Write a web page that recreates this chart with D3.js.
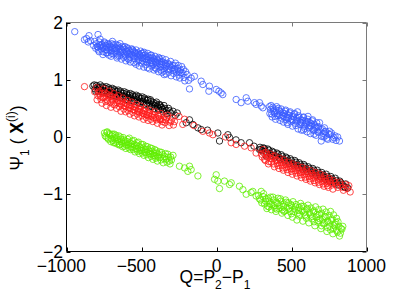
<!DOCTYPE html>
<html><head><meta charset="utf-8">
<script src="https://cdn.jsdelivr.net/npm/d3@7"></script>
<style>body{margin:0;background:#fff}svg{display:block}text{font-family:"Liberation Sans",Arial,sans-serif;fill:#000}</style>
</head><body>
<script>
const xTicks = [-1000, -500, 0, 500, 1000];
const yTicks = [-2, -1, 0, 1, 2];
const xLabel = ["Q=P", "2", "−P", "1"];

const bluePts = [[-945,1.84],[-880,1.70],[-866,1.72],[-850,1.77],[-840,1.68],[-790,1.79],[-855,1.66],
[-820,1.60],[-812,1.67],[-805,1.55],[-800,1.63],[-795,1.58],[-788,1.52],[-782,1.66],[-776,1.59],[-770,1.54],[-764,1.62],[-758,1.49],[-752,1.58],[-745,1.64],[-740,1.53],[-734,1.59],[-728,1.47],[-722,1.56],[-716,1.62],[-710,1.51],[-704,1.57],[-698,1.46],[-692,1.55],[-686,1.61],[-680,1.50],[-674,1.56],[-668,1.45],[-662,1.54],[-656,1.60],[-650,1.49],[-644,1.55],[-638,1.43],[-632,1.52],[-626,1.58],[-620,1.47],[-614,1.53],[-608,1.41],[-602,1.50],[-596,1.56],[-590,1.45],[-584,1.51],[-578,1.39],[-572,1.48],[-566,1.54],[-560,1.43],[-554,1.49],[-548,1.37],[-542,1.46],[-536,1.52],[-530,1.41],[-524,1.47],[-518,1.35],[-512,1.44],[-506,1.50],[-500,1.39],[-494,1.33],[-488,1.42],[-482,1.48],[-476,1.37],[-470,1.31],[-464,1.40],[-458,1.46],[-452,1.35],[-446,1.29],[-440,1.38],[-434,1.43],[-428,1.33],[-422,1.27],[-416,1.36],[-410,1.41],[-404,1.30],[-398,1.24],[-392,1.34],[-386,1.39],[-380,1.28],[-374,1.22],[-368,1.32],[-362,1.37],[-356,1.26],[-350,1.20],[-344,1.29],[-338,1.35],[-330,1.24],[-322,1.18],[-314,1.27],[-306,1.32],[-298,1.21],[-290,1.16],[-282,1.25],[-274,1.29],[-266,1.13],[-258,1.20],[-250,1.08],[-240,1.17],[-232,1.23],[-224,1.11],[-216,1.04],[-206,1.14],[-196,1.09],[-186,0.99],[-180,0.84],[-169,1.03],[-147,1.06],
[-790,1.57],[-760,1.56],[-730,1.52],[-700,1.50],[-670,1.51],[-640,1.48],[-610,1.45],[-580,1.44],[-550,1.42],[-520,1.39],[-490,1.37],[-460,1.34],[-430,1.30],[-400,1.28],[-370,1.26],[-340,1.23],[-310,1.19],[-280,1.18],[-250,1.15],[-620,1.56],[-560,1.52],[-500,1.46],[-440,1.43],[-380,1.37],[-700,1.63],[-660,1.41],[-590,1.37],[-530,1.31],[-470,1.26],[-410,1.21],[-350,1.15],
[-783,1.49],[-776,1.71],[-769,1.61],[-757,1.44],[-748,1.66],[-741,1.60],[-736,1.47],[-725,1.63],[-717,1.43],[-709,1.58],[-703,1.41],[-694,1.67],[-687,1.45],[-679,1.54],[-671,1.62],[-663,1.38],[-657,1.57],[-649,1.42],[-643,1.63],[-634,1.36],[-627,1.50],[-619,1.39],[-611,1.58],[-604,1.33],[-597,1.49],[-589,1.54],[-583,1.35],[-575,1.31],[-567,1.44],[-559,1.52],[-551,1.30],[-545,1.48],[-537,1.27],[-529,1.45],[-521,1.33],[-515,1.24],[-507,1.42],[-499,1.29],[-491,1.47],[-485,1.22],[-477,1.43],[-469,1.36],[-461,1.21],[-455,1.40],[-447,1.19],[-439,1.33],[-431,1.24],[-425,1.38],[-417,1.17],[-409,1.32],[-401,1.19],[-395,1.36],[-387,1.14],[-379,1.31],[-371,1.17],[-365,1.13],[-357,1.31],[-349,1.09],[-341,1.27],[-335,1.10],[-327,1.29],[-319,1.13],[-311,1.24],[-303,1.07],[-294,1.25],[-286,1.11],[-277,1.19],[-268,1.05],[-255,1.25],[-245,1.03],[-236,1.12],[-221,1.18],[-211,0.98],
[-102,0.975],[-91,0.917],[-47,0.888],[-51,0.80],[-2,0.83],[16,0.80],[31,0.77],[42,0.74],[131,0.655],[164,0.60],[198,0.685],[209,0.625],[253,0.60],[264,0.57],[287,0.60],[298,0.54],[309,0.51],[353,0.53],
[360,0.48],[368,0.40],[375,0.52],[382,0.44],[390,0.36],[398,0.47],[405,0.41],[412,0.50],[420,0.38],[428,0.44],[435,0.33],[442,0.42],[450,0.36],[458,0.45],[465,0.30],[472,0.39],[480,0.33],[488,0.42],[495,0.27],[502,0.36],[510,0.30],[518,0.40],[525,0.24],[532,0.33],[540,0.27],[548,0.37],[555,0.22],[562,0.30],[570,0.25],[578,0.34],[585,0.19],[592,0.28],[600,0.22],[608,0.31],[615,0.16],[622,0.25],[630,0.19],[638,0.28],[645,0.13],[652,0.22],[660,0.16],[668,0.25],[675,0.10],[687,0.25],[698,-0.07],[705,0.14],[712,0.06],[720,0.16],[730,0.03],[742,-0.04],[753,0.10],[760,0.04],[775,-0.04],[790,0.02],[820,-0.07],[470,0.25],[540,0.44],[610,0.36],[580,0.12],[650,0.05],[680,0.18],[720,0.09],
[356,0.41],[364,0.55],[371,0.35],[379,0.49],[387,0.42],[394,0.31],[401,0.53],[409,0.37],[417,0.46],[424,0.29],[431,0.49],[439,0.38],[446,0.26],[454,0.41],[461,0.47],[468,0.34],[476,0.22],[484,0.38],[491,0.44],[498,0.31],[506,0.19],[514,0.35],[521,0.41],[529,0.20],[536,0.29],[544,0.14],[551,0.34],[559,0.26],[566,0.12],[574,0.29],[581,0.35],[589,0.15],[596,0.24],[604,0.09],[611,0.27],[619,0.20],[626,0.06],[634,0.23],[641,0.30],[649,0.11],[656,0.19],[664,0.03],[671,0.17],[679,0.08],[694,0.13],[701,0.01],[716,0.00],[727,0.10],[736,-0.02],[748,0.05],[766,0.07],[782,-0.01],[797,-0.06],[808,0.00]];

const redPts = [[-880,0.88],[-800,0.86],[-790,0.72],[-780,0.80],[-770,0.66],[-760,0.76],[-752,0.84],[-745,0.70],[-738,0.62],[-730,0.75],[-722,0.68],[-715,0.80],[-708,0.60],[-700,0.71],[-692,0.64],[-685,0.76],[-678,0.56],[-670,0.67],[-662,0.60],[-655,0.72],[-648,0.53],[-640,0.63],[-632,0.57],[-625,0.68],[-618,0.49],[-610,0.60],[-602,0.53],[-595,0.64],[-588,0.46],[-580,0.56],[-572,0.50],[-565,0.61],[-558,0.43],[-550,0.53],[-542,0.47],[-535,0.57],[-528,0.40],[-520,0.49],[-512,0.43],[-505,0.54],[-498,0.37],[-490,0.46],[-482,0.40],[-475,0.50],[-468,0.34],[-460,0.43],[-452,0.37],[-445,0.47],[-438,0.31],[-430,0.40],[-420,0.34],[-410,0.44],[-400,0.30],[-390,0.38],[-380,0.32],[-370,0.41],[-360,0.27],[-350,0.36],[-340,0.30],[-325,0.38],[-310,0.26],[-295,0.33],[-280,0.27],
[-812,0.79],[-796,0.65],[-786,0.77],[-774,0.71],[-763,0.59],[-754,0.69],[-743,0.77],[-734,0.55],[-726,0.64],[-713,0.72],[-704,0.52],[-696,0.66],[-687,0.57],[-674,0.69],[-666,0.50],[-658,0.63],[-646,0.58],[-637,0.45],[-629,0.61],[-617,0.55],[-606,0.44],[-598,0.58],[-586,0.51],[-577,0.40],[-568,0.55],[-556,0.48],[-547,0.37],[-539,0.52],[-526,0.45],[-517,0.35],[-508,0.48],[-496,0.42],[-486,0.31],[-479,0.45],[-466,0.39],[-456,0.29],[-448,0.41],[-436,0.36],[-425,0.27],[-416,0.38],[-404,0.33],[-394,0.24],[-385,0.36],[-373,0.30],[-363,0.21],[-354,0.31],[-343,0.25],[-332,0.33],[-316,0.20],[-302,0.28],[-287,0.21],
[-225,0.22],[-213,0.31],[-91,0.10],[-47,0.07],[-24,0.04],[98,-0.10],[131,-0.13],[187,-0.16],[231,-0.19],[264,-0.28],[320,-0.39],[-250,0.36],[-150,0.20],[60,0.0],
[300,-0.30],[310,-0.22],[330,-0.27],[340,-0.35],[350,-0.43],[360,-0.30],[370,-0.38],[380,-0.47],[390,-0.33],[400,-0.41],[410,-0.50],[420,-0.37],[430,-0.45],[440,-0.54],[450,-0.40],[460,-0.48],[470,-0.57],[480,-0.44],[490,-0.52],[500,-0.60],[510,-0.47],[520,-0.55],[530,-0.63],[540,-0.50],[550,-0.58],[560,-0.66],[570,-0.53],[580,-0.61],[590,-0.70],[600,-0.56],[610,-0.64],[620,-0.73],[630,-0.59],[640,-0.67],[650,-0.76],[660,-0.62],[670,-0.70],[680,-0.79],[690,-0.65],[700,-0.73],[710,-0.82],[720,-0.68],[730,-0.77],[740,-0.85],[750,-0.72],[760,-0.80],[780,-0.76],[800,-0.84],[820,-0.79],[840,-0.88],[860,-0.83],[891,-0.96],
[305,-0.35],[316,-0.28],[326,-0.41],[337,-0.31],[346,-0.47],[357,-0.37],[366,-0.44],[377,-0.34],[386,-0.52],[397,-0.40],[406,-0.46],[417,-0.55],[426,-0.42],[437,-0.50],[446,-0.58],[457,-0.45],[466,-0.53],[477,-0.62],[486,-0.49],[497,-0.56],[506,-0.65],[517,-0.51],[526,-0.59],[537,-0.68],[546,-0.55],[557,-0.62],[566,-0.71],[577,-0.58],[586,-0.66],[597,-0.74],[606,-0.61],[617,-0.69],[626,-0.77],[637,-0.64],[646,-0.72],[657,-0.80],[666,-0.67],[677,-0.75],[686,-0.83],[697,-0.70],[706,-0.78],[717,-0.86],[726,-0.73],[737,-0.81],[746,-0.88],[757,-0.76],[768,-0.84],[776,-0.91],[792,-0.80],[808,-0.88],[826,-0.84],[846,-0.93],[870,-0.90],[882,-0.85]];

const blackPts = [[-824,0.89],[-810,0.84],[-800,0.90],[-790,0.80],[-780,0.87],[-770,0.83],[-760,0.88],[-750,0.78],[-740,0.85],[-730,0.80],[-720,0.86],[-710,0.74],[-700,0.82],[-690,0.77],[-680,0.83],[-670,0.71],[-660,0.79],[-650,0.74],[-640,0.80],[-630,0.68],[-620,0.76],[-610,0.71],[-600,0.77],[-590,0.65],[-580,0.73],[-570,0.68],[-560,0.74],[-550,0.62],[-540,0.70],[-530,0.65],[-520,0.71],[-510,0.59],[-500,0.67],[-490,0.62],[-480,0.68],[-470,0.56],[-460,0.64],[-450,0.59],[-440,0.65],[-430,0.53],[-420,0.60],[-410,0.55],[-400,0.61],[-390,0.50],[-380,0.57],[-370,0.52],[-360,0.48],[-350,0.55],[-335,0.46],[-320,0.50],[-305,0.42],[-290,0.45],[-275,0.38],[-262,0.42],
[-815,0.91],[-805,0.80],[-795,0.87],[-784,0.84],[-775,0.91],[-765,0.79],[-755,0.86],[-745,0.81],[-735,0.88],[-725,0.76],[-715,0.83],[-705,0.78],[-695,0.85],[-685,0.72],[-675,0.80],[-665,0.75],[-655,0.82],[-645,0.69],[-635,0.77],[-625,0.72],[-615,0.79],[-605,0.66],[-595,0.74],[-585,0.69],[-575,0.76],[-565,0.63],[-555,0.71],[-545,0.66],[-535,0.73],[-525,0.60],[-515,0.68],[-505,0.62],[-495,0.70],[-485,0.57],[-475,0.65],[-465,0.59],[-455,0.66],[-445,0.54],[-435,0.62],[-425,0.57],[-415,0.50],[-405,0.58],[-395,0.54],[-385,0.47],[-375,0.55],[-365,0.51],[-355,0.44],[-345,0.50],[-330,0.41],[-315,0.46],
[-202,0.25],[-158,0.22],[-124,0.16],[-102,0.13],[9,0.07],[20,-0.07],[76,0.04],[87,-0.01],[164,-0.10],[220,-0.10],[287,-0.22],[331,-0.33],[-180,0.30],[-60,0.12],[130,-0.05],[250,-0.16],
[290,-0.18],[305,-0.24],[320,-0.20],[335,-0.28],[350,-0.23],[365,-0.32],[380,-0.27],[395,-0.35],[410,-0.30],[425,-0.39],[440,-0.34],[455,-0.42],[470,-0.37],[485,-0.46],[500,-0.41],[515,-0.49],[530,-0.44],[545,-0.53],[560,-0.48],[575,-0.56],[590,-0.51],[605,-0.60],[620,-0.55],[635,-0.63],[650,-0.58],[665,-0.67],[680,-0.62],[695,-0.70],[710,-0.66],[725,-0.74],[740,-0.69],[755,-0.77],[770,-0.73],[785,-0.81],[800,-0.76],[815,-0.84],[830,-0.80],[850,-0.87],[875,-0.89],[862,-0.82],
[295,-0.22],[312,-0.19],[327,-0.25],[342,-0.21],[357,-0.29],[372,-0.25],[387,-0.32],[402,-0.28],[417,-0.36],[432,-0.31],[447,-0.39],[462,-0.35],[477,-0.42],[492,-0.38],[507,-0.46],[522,-0.41],[537,-0.49],[552,-0.45],[567,-0.52],[582,-0.48],[597,-0.56],[612,-0.52],[627,-0.59],[642,-0.55],[657,-0.63],[672,-0.58],[687,-0.66],[702,-0.62],[717,-0.70],[732,-0.65],[747,-0.73],[762,-0.69],[777,-0.77],[792,-0.72],[808,-0.80],[822,-0.77],[840,-0.83],[858,-0.88]];

const greenPts = [[-747,0.07],[-735,0.00],[-728,0.09],[-720,-0.04],[-712,0.04],[-705,-0.08],[-698,0.02],[-690,-0.06],[-682,0.05],[-675,-0.10],[-668,-0.01],[-660,-0.08],[-652,0.02],[-645,-0.13],[-638,-0.04],[-630,-0.11],[-622,-0.01],[-615,-0.16],[-608,-0.07],[-600,-0.14],[-592,-0.04],[-585,-0.19],[-578,-0.10],[-570,-0.17],[-562,-0.07],[-555,-0.22],[-548,-0.13],[-540,-0.20],[-532,-0.10],[-525,-0.25],[-518,-0.16],[-510,-0.23],[-502,-0.13],[-495,-0.28],[-488,-0.19],[-480,-0.26],[-472,-0.16],[-465,-0.31],[-458,-0.22],[-450,-0.29],[-442,-0.19],[-435,-0.34],[-428,-0.25],[-420,-0.32],[-412,-0.22],[-405,-0.37],[-398,-0.28],[-390,-0.35],[-380,-0.26],[-370,-0.40],[-360,-0.31],[-350,-0.38],[-340,-0.29],[-330,-0.44],[-320,-0.35],[-310,-0.47],[-300,-0.40],[-290,-0.32],
[-742,0.02],[-731,0.08],[-723,-0.02],[-716,0.06],[-701,-0.03],[-694,0.05],[-686,-0.10],[-679,-0.02],[-671,0.03],[-664,-0.12],[-656,-0.05],[-648,-0.14],[-641,0.00],[-634,-0.08],[-626,-0.17],[-618,-0.05],[-611,-0.11],[-604,-0.20],[-596,-0.08],[-588,-0.14],[-581,-0.02],[-574,-0.22],[-566,-0.12],[-559,-0.18],[-551,-0.06],[-544,-0.26],[-536,-0.15],[-529,-0.21],[-521,-0.09],[-514,-0.29],[-506,-0.19],[-499,-0.24],[-491,-0.13],[-484,-0.32],[-476,-0.22],[-469,-0.27],[-461,-0.17],[-454,-0.36],[-446,-0.25],[-439,-0.30],[-431,-0.20],[-424,-0.39],[-416,-0.28],[-409,-0.33],[-401,-0.24],[-394,-0.42],[-386,-0.31],[-376,-0.36],[-366,-0.27],[-355,-0.45],[-345,-0.34],[-335,-0.39],[-325,-0.30],[-315,-0.42],[-305,-0.35],
[-247,-0.51],[-213,-0.54],[-191,-0.60],[-169,-0.57],[-124,-0.68],[-180,-0.51],[-2,-0.66],[-13,-0.74],[9,-0.77],[53,-0.77],[20,-0.90],[87,-0.83],[153,-0.86],[176,-0.92],[242,-0.95],[264,-1.03],[198,-1.00],[298,-0.95],[98,-0.80],[231,-0.97],
[280,-1.02],[295,-1.10],[310,-1.04],[320,-1.17],[330,-1.08],[340,-1.21],[350,-1.12],[360,-1.05],[370,-1.18],[380,-1.10],[390,-1.24],[400,-1.14],[410,-1.07],[420,-1.20],[430,-1.12],[440,-1.27],[450,-1.17],[460,-1.10],[470,-1.23],[480,-1.15],[490,-1.30],[500,-1.20],[510,-1.13],[520,-1.26],[530,-1.18],[540,-1.33],[550,-1.23],[560,-1.16],[570,-1.29],[580,-1.21],[590,-1.36],[600,-1.26],[610,-1.19],[620,-1.32],[630,-1.24],[640,-1.39],[650,-1.29],[660,-1.22],[670,-1.35],[680,-1.27],[690,-1.43],[700,-1.33],[710,-1.26],[720,-1.39],[730,-1.31],[740,-1.47],[750,-1.37],[760,-1.30],[770,-1.43],[780,-1.36],[790,-1.52],[800,-1.42],[810,-1.48],[820,-1.73],[842,-1.56],[830,-1.60],[760,-1.62],[700,-1.55],[650,-1.48],[600,-1.42],[550,-1.38],[500,-1.34],[450,-1.30],[400,-1.26],[350,-1.22],[780,-1.60],[740,-1.58],[800,-1.63],[720,-1.50],[680,-1.46],
[286,-1.08],[302,-1.15],[314,-0.99],[326,-1.12],[336,-1.25],[346,-1.07],[356,-1.17],[366,-1.27],[376,-1.05],[386,-1.20],[396,-1.30],[406,-1.16],[416,-1.25],[426,-1.08],[436,-1.33],[446,-1.21],[456,-1.29],[466,-1.14],[476,-1.37],[486,-1.25],[496,-1.18],[506,-1.40],[516,-1.30],[526,-1.22],[536,-1.45],[546,-1.28],[556,-1.35],[566,-1.21],[576,-1.47],[586,-1.31],[596,-1.38],[606,-1.25],[616,-1.50],[626,-1.36],[636,-1.43],[646,-1.31],[656,-1.55],[666,-1.40],[676,-1.49],[686,-1.35],[696,-1.60],[706,-1.44],[716,-1.52],[726,-1.39],[736,-1.65],[746,-1.49],[756,-1.56],[766,-1.45],[776,-1.69],[786,-1.55],[796,-1.49],[806,-1.66],[816,-1.56],[826,-1.68],[836,-1.61]];

const series = [
  {pts: bluePts, color: "#3a5cff"},
  {pts: blackPts, color: "#000000"},
  {pts: redPts, color: "#ff1a1a"},
  {pts: greenPts, color: "#5fee00"}
];

const W = 405, H = 305;
const L = 66.5, R = 366.5, T = 22.5, B = 251.5;
const x = d3.scaleLinear().domain([-1000, 1000]).range([L, R]);
const y = d3.scaleLinear().domain([-2, 2]).range([B, T]);

const svg = d3.select("body").append("svg").attr("width", W).attr("height", H);
svg.append("rect").attr("width", W).attr("height", H).attr("fill", "#fff");

const g = svg.append("g");
series.forEach(s => {
  g.selectAll(null).data(s.pts).enter().append("circle")
    .attr("cx", d => x(d[0])).attr("cy", d => y(d[1]))
    .attr("r", 3.2).attr("fill", "none")
    .attr("stroke", s.color).attr("stroke-width", 0.8);
});

svg.append("line").attr("x1", L).attr("x2", R).attr("y1", T).attr("y2", T).attr("stroke", "#7a7a7a");
svg.append("line").attr("x1", R).attr("x2", R).attr("y1", T).attr("y2", B).attr("stroke", "#7a7a7a");
svg.append("line").attr("x1", L).attr("x2", L).attr("y1", T).attr("y2", B).attr("stroke", "#000");
svg.append("line").attr("x1", L).attr("x2", R).attr("y1", B).attr("y2", B).attr("stroke", "#000");

const tk = 4;
xTicks.forEach(v => {
  const px = Math.round(x(v)) + 0.5;
  svg.append("line").attr("x1", px).attr("x2", px).attr("y1", B).attr("y2", B - tk).attr("stroke", "#000");
  svg.append("line").attr("x1", px).attr("x2", px).attr("y1", T).attr("y2", T + tk).attr("stroke", "#7a7a7a");
});
yTicks.forEach(v => {
  const py = Math.round(y(v)) + 0.5;
  svg.append("line").attr("x1", L).attr("x2", L + tk).attr("y1", py).attr("y2", py).attr("stroke", "#000");
  svg.append("line").attr("x1", R).attr("x2", R - tk).attr("y1", py).attr("y2", py).attr("stroke", "#7a7a7a");
});

const fs = 17.5;
const fmt = v => (v < 0 ? "−" : "") + Math.abs(v);
const meas = svg.append("text").attr("font-size", fs).text("−");
const minusW = meas.node().getComputedTextLength();
meas.remove();

svg.append("g").selectAll("text").data(xTicks).enter().append("text")
  .attr("x", d => x(d) - (d < 0 ? minusW / 2 : 0))
  .attr("y", 272).attr("text-anchor", "middle").attr("font-size", fs)
  .text(fmt);

svg.append("g").selectAll("text").data(yTicks).enter().append("text")
  .attr("x", 63).attr("y", d => y(d) + 6).attr("text-anchor", "end").attr("font-size", fs)
  .text(fmt);

const xl = svg.append("text").attr("x", 215).attr("y", 283).attr("text-anchor", "middle").attr("font-size", fs);
xl.append("tspan").text(xLabel[0]);
xl.append("tspan").attr("dy", 6).attr("font-size", 12).text(xLabel[1]);
xl.append("tspan").attr("dy", -6).text(xLabel[2]);
xl.append("tspan").attr("dy", 6).attr("font-size", 12).text(xLabel[3]);

const yl = svg.append("text").attr("transform", "translate(23,138) rotate(-90)")
  .attr("text-anchor", "middle").attr("font-size", fs);
yl.append("tspan").text("Ψ");
yl.append("tspan").attr("dy", 6).attr("font-size", 12).text("1");
yl.append("tspan").attr("dy", -6).text(" ( ");
yl.append("tspan").attr("font-weight", "bold").text("X");
yl.append("tspan").attr("dy", -8).attr("font-size", 12).text("(i)");
yl.append("tspan").attr("dy", 8).text(")");
</script>
</body></html>
